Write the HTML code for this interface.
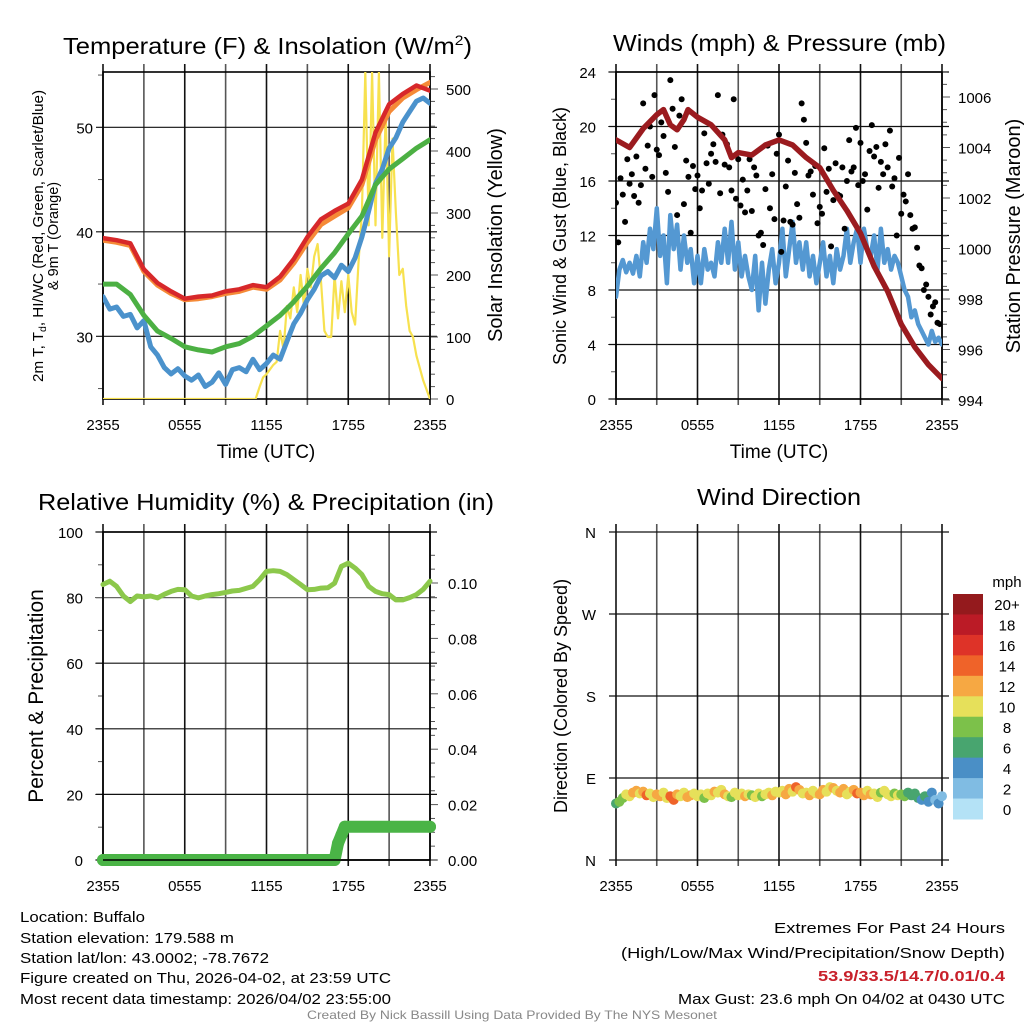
<!DOCTYPE html>
<html><head><meta charset="utf-8"><style>
html,body{margin:0;padding:0;background:#fff;}
svg{display:block;font-family:"Liberation Sans",sans-serif;}
</style></head><body>
<svg id="chart" width="1024" height="1024" viewBox="0 0 1024 1024" xmlns="http://www.w3.org/2000/svg">
<defs>
<clipPath id="cTL"><rect x="103" y="72" width="327" height="327"/></clipPath>
<clipPath id="cTR"><rect x="616" y="72" width="326" height="327"/></clipPath>
<clipPath id="cBL"><rect x="95" y="532" width="345" height="335"/></clipPath>
<clipPath id="cBR"><rect x="606" y="532" width="345" height="328"/></clipPath>
</defs>
<g id="root"></g>
<text x="63" y="54" font-size="23" textLength="409" lengthAdjust="spacingAndGlyphs">Temperature (F) &amp; Insolation (W/m<tspan font-size="14" dy="-9">2</tspan><tspan dy="9">)</tspan></text>
<text x="613" y="51" font-size="23" textLength="333" lengthAdjust="spacingAndGlyphs">Winds (mph) &amp; Pressure (mb)</text>
<text x="38" y="510" font-size="23" textLength="456" lengthAdjust="spacingAndGlyphs">Relative Humidity (%) &amp; Precipitation (in)</text>
<text x="697" y="505" font-size="23" textLength="164" lengthAdjust="spacingAndGlyphs">Wind Direction</text>
<text x="266" y="458" font-size="19" text-anchor="middle">Time (UTC)</text>
<text x="779" y="458" font-size="19" text-anchor="middle">Time (UTC)</text>
<g font-size="14.5" text-anchor="middle">
<text transform="translate(43,236) rotate(-90)" textLength="292" lengthAdjust="spacingAndGlyphs">2m T, T<tspan font-size="10" dy="3">d</tspan><tspan dy="-3">, HI/WC (Red, Green, Scarlet/Blue)</tspan></text>
<text transform="translate(58,236) rotate(-90)">&amp; 9m T (Orange)</text>
</g>
<text transform="translate(502,235) rotate(-90)" font-size="20" text-anchor="middle">Solar Insolation (Yellow)</text>
<text transform="translate(566,236) rotate(-90)" font-size="18" text-anchor="middle">Sonic Wind &amp; Gust (Blue, Black)</text>
<text transform="translate(1020,236) rotate(-90)" font-size="20" text-anchor="middle">Station Pressure (Maroon)</text>
<text transform="translate(43,696) rotate(-90)" font-size="21" text-anchor="middle">Percent &amp; Precipitation</text>
<text transform="translate(567,696) rotate(-90)" font-size="18" text-anchor="middle">Direction (Colored By Speed)</text>
<g font-size="15" font-family="'Liberation Sans Narrow','Liberation Sans',sans-serif">
<text x="20" y="922" textLength="125" lengthAdjust="spacingAndGlyphs">Location: Buffalo</text>
<text x="20" y="943" textLength="214" lengthAdjust="spacingAndGlyphs">Station elevation: 179.588 m</text>
<text x="20" y="963" textLength="249" lengthAdjust="spacingAndGlyphs">Station lat/lon: 43.0002; -78.7672</text>
<text x="20" y="983" textLength="371" lengthAdjust="spacingAndGlyphs">Figure created on Thu, 2026-04-02, at 23:59 UTC</text>
<text x="20" y="1004" textLength="371" lengthAdjust="spacingAndGlyphs">Most recent data timestamp: 2026/04/02 23:55:00</text>
</g>
<g font-size="15" font-family="'Liberation Sans Narrow','Liberation Sans',sans-serif">
<text x="1005" y="933" text-anchor="end" textLength="231" lengthAdjust="spacingAndGlyphs">Extremes For Past 24 Hours</text>
<text x="1005" y="958" text-anchor="end" textLength="384" lengthAdjust="spacingAndGlyphs">(High/Low/Max Wind/Precipitation/Snow Depth)</text>
<text x="1005" y="981" text-anchor="end" fill="#c8202a" font-weight="bold" textLength="187" lengthAdjust="spacingAndGlyphs">53.9/33.5/14.7/0.01/0.4</text>
<text x="1005" y="1004" text-anchor="end" textLength="327" lengthAdjust="spacingAndGlyphs">Max Gust: 23.6 mph On 04/02 at 0430 UTC</text>
</g>
<text x="512" y="1019" font-size="12" fill="#888" text-anchor="middle" font-family="'Liberation Sans Narrow','Liberation Sans',sans-serif" textLength="410" lengthAdjust="spacingAndGlyphs">Created By Nick Bassill Using Data Provided By The NYS Mesonet</text>
</svg>
<script>
// ---- data ----
const hourly = [0,1,2,3,4,5,6,7,8,9,10,11,12,13,14,15,16,17,18,19,20,21,22,23,24];
const tempRed = [39.4,39.2,38.9,36.4,35.1,34.3,33.6,33.8,33.9,34.3,34.5,34.9,34.7,35.7,37.4,39.5,41.2,42.0,42.7,45.0,49.5,52.2,53.2,54.0,53.5];
const tempOrange = [39.2,39.0,38.7,36.2,34.9,34.1,33.5,33.6,33.8,34.1,34.3,34.7,34.5,35.4,37.0,39.0,40.7,41.5,42.3,44.5,48.8,51.5,52.8,53.6,54.3];
const tempGreen = [35.0,35.0,34.0,32.0,30.5,29.8,29.0,28.7,28.5,29.0,29.3,30.0,31.0,32.0,33.3,34.8,36.5,38.0,39.8,41.5,44.5,46.0,47.0,48.0,48.8];
const halfHours = [0,0.5,1,1.5,2,2.5,3,3.5,4,4.5,5,5.5,6,6.5,7,7.5,8,8.5,9,9.5,10,10.5,11,11.5,12,12.5,13,13.5,14,14.5,15,15.5,16,16.5,17,17.5,18,18.5,19,19.5,20,20.5,21,21.5,22,22.5,23,23.5,24];
const tempBlue = [33.8,32.6,32.8,31.9,32.1,30.8,31.5,29.0,28.2,27.0,26.4,26.9,26.2,25.8,26.3,25.2,25.6,26.5,25.4,26.8,27.0,26.6,27.8,26.8,27.4,28.2,27.8,29.5,31.2,32.2,33.5,34.5,35.8,36.2,35.6,36.8,36.2,37.5,39.5,42.0,44.6,46.0,48.0,49.0,50.5,51.5,52.5,52.8,52.3];
const solarHours = [0,11.2,11.5,11.75,12,12.5,12.75,13,13.25,13.5,13.75,14,14.25,14.5,14.75,15,15.25,15.5,15.75,16,16.25,16.5,16.75,17,17.25,17.5,17.75,18,18.25,18.5,18.75,19,19.25,19.5,19.75,20,20.25,20.5,20.75,21,21.25,21.5,21.75,22,22.25,22.5,22.75,23,23.5,24];
const solar = [0,0,20,35,40,55,60,110,80,150,130,180,140,200,150,210,180,230,250,190,110,100,100,200,130,190,140,200,140,120,220,300,527,280,527,280,527,260,460,230,420,300,200,210,150,110,100,70,30,0];
const windSpeed = [7.5,9.5,10.2,9.3,10.0,9.2,10.5,9.0,
11.5,10.0,12.5,11.0,14.0,10.5,12.0,8.5,
13.5,11.0,12.8,9.5,12.0,10.0,11.0,8.5,
10.5,8.5,11.0,9.5,10.0,9.0,11.5,10.0,
12.5,10.0,13.0,9.5,11.5,9.0,10.5,9.0,
8.0,10.5,6.5,10.0,7.0,9.5,11.0,8.5,
10.0,12.5,9.0,11.0,13.0,10.0,11.5,9.5,
11.5,9.0,10.5,8.5,10.0,11.5,9.0,10.5,
8.5,11.0,9.5,10.5,12.5,10.0,11.5,12.5,
10.0,12.5,11.0,10.5,12.0,9.5,12.5,10.0,
11.0,9.5,10.5,10.0,9.0,8.0,7.5,6.0,
6.5,5.5,5.0,4.5,4.0,5.0,4.2,4.5,4.0];
const gust = [14.4,11.5,16.2,15.0,13.0,17.6,15.8,16.5,14.9,17.8,14.4,15.7,
21.7,16.9,18.6,20.0,16.3,22.3,18.3,17.9,20.3,19.3,16.6,15.2,
23.4,21.3,18.5,13.5,20.8,22.0,14.3,17.5,16.3,12.2,17.1,15.4,
16.4,14.0,15.3,19.5,17.3,15.8,18.0,18.7,17.4,22.3,15.1,19.4,
17.2,18.7,17.0,15.3,22.0,14.7,17.6,14.2,16.1,13.7,15.3,17.6,
13.8,17.0,16.4,12.0,12.2,11.3,15.4,18.6,14.0,16.5,13.2,18.0,
19.4,10.8,13.1,15.6,17.5,13.0,12.8,16.6,14.3,13.3,21.7,20.5,
18.8,16.4,16.7,15.0,17.1,12.9,14.1,13.6,18.4,15.2,16.9,11.2,
14.6,17.3,15.0,14.9,17.0,12.5,16.0,19.0,16.7,17.0,19.9,15.7,
18.8,16.0,16.5,13.9,18.2,20.1,17.8,18.5,15.5,17.4,16.5,18.7,
17.0,19.7,15.6,16.2,12.0,17.7,13.6,15.0,14.5,16.5,13.5,12.5,
12.6,11.1,9.8,9.6,8.0,8.4,7.5,6.2,6.8,7.1,5.6,5.5];
const pressureHours = [0,1,2,3,3.5,4,4.5,5,5.3,6,7,8,8.5,9,10,11,12,13,14,15,16,17,18,19,20,21,22,23,24];
const pressure = [1004.3,1004.0,1004.75,1005.3,1005.5,1004.9,1004.7,1005.1,1005.5,1005.2,1004.9,1004.3,1003.6,1003.8,1003.7,1004.1,1004.3,1004.1,1003.6,1003.2,1002.3,1001.5,1000.6,999.3,998.3,997.0,996.1,995.4,994.85];
const rh = [84,85,83.4,80.5,78.8,80.5,80.2,80.5,79.9,81,81.9,82.5,82.4,80.5,79.9,80.5,80.9,81.2,81.6,82,82.2,82.8,83.4,85.5,88,88.2,88,87,85.5,84,82.4,82.5,82.9,83,84.4,89.5,90.5,89,87,83.4,81.9,81.2,80.9,79.3,79.3,80,80.9,82.5,85];
const precipHours = [0,17.0,17.25,17.5,17.75,24];
const precip = [0,0,0.006,0.009,0.012,0.012];
const direction = [62,64,68,72,70,74,76,73,
75,71,73,69,72,70,74,68,
70,66,72,70,74,69,71,73,
70,72,68,73,71,75,74,77,
72,70,69,74,71,73,70,72,
71,69,73,70,72,74,71,75,
74,76,72,78,75,80,77,73,
74,71,76,73,72,77,75,80,
79,76,74,78,72,75,77,73,
74,71,76,72,73,69,74,76,
72,70,73,71,72,70,74,71,
73,68,66,70,64,74,66,62,70];
const dirSpeed = [7,8,9,10,11,12,13,11,
12,14,11,10,12,13,11,10,
15,14,12,11,10,13,12,11,
10,11,9,10,11,12,10,11,
12,10,9,11,10,11,12,10,
9,10,11,8,10,11,12,10,
11,10,12,13,11,15,12,10,
11,12,10,11,12,13,11,10,
12,11,13,12,10,11,12,15,
13,12,11,12,10,11,9,10,
11,10,9,10,8,9,7,6,
7,6,5,6,4,5,3,4,3];
const xTickLabels = ["2355","0555","1155","1755","2355"];
const tempTicks = [30,40,50];
const solarTicks = [0,100,200,300,400,500];
const windTicks = [0,4,8,12,16,20,24];
const pressTicks = [994,996,998,1000,1002,1004,1006];
const rhTicks = [0,20,40,60,80,100];
const precipTicks = [0.00,0.02,0.04,0.06,0.08,0.10];
const dirTicks = [0,90,180,270,360];
const dirLabels = ["N","E","S","W","N"];
const cbLevels = ["0","2","4","6","8","10","12","14","16","18","20+"];
const cbColors = ["#b4e2f6","#80bce3","#4a8fc6","#48a56f","#7cc14a","#e6e05a","#f6a843","#ef6329","#de3328","#bb1b26","#941a1d"];

// ---- scales ----
const xL = h => 103 + h * 327 / 24;
const xR = h => 616 + h * 326 / 24;
const yT = v => 399 - (v - 24) * 10.45;
const yS = v => 399 - v * 0.62;
const yW = v => 399 - v * 13.625;
const yP = p => 400 - (p - 994) * 25.25;
const yH = v => 860 - v * 3.28;
const yPr = v => 860 - v * 2770;
const yD = d => 860 - d * 328 / 360;
const speedColor = s => cbColors[Math.max(0, Math.min(10, Math.floor(s / 2)))];

const NS = "http://www.w3.org/2000/svg";
const root = document.getElementById("root");
function mk(tag, attrs, parent) {
  const e = document.createElementNS(NS, tag);
  for (const k in attrs) e.setAttribute(k, attrs[k]);
  (parent || root).appendChild(e);
  return e;
}
function txt(s, attrs, parent) { const e = mk("text", attrs, parent); e.textContent = s; return e; }

function frame(name, x0, y0, x1, y1, xf) {
  const g = mk("g", {});
  
  
  for (let i = 0; i <= 8; i++) {
    const x = xf(i * 3);
    const l = mk("line", {x1: x, x2: x, y1: y0 - 8, y2: y1 + 6, stroke: i % 2 ? "#555" : "#111", "stroke-width": 1.6}, g);
    
    
  }
  for (let i = 0; i < xTickLabels.length; i++) {
    const t = txt(xTickLabels[i], {x: xf(i * 6), y: y1 + 31, "font-size": 15, "text-anchor": "middle"}, g);
    
    
  }
  return g;
}
function hgrid(g, x0, x1, y, color) {
  mk("line", {x1: x0 - 7, x2: x1 + 7, y1: y, y2: y, stroke: color || "#111", "stroke-width": 1.2}, g);
}
function ytick(g, x, y, dir, len) { mk("line", {x1: x, x2: x + dir * len, y1: y, y2: y, stroke: "#555", "stroke-width": 1}, g); }
function poly(xs, ys, xf, yf, attrs, clip, name) {
  const pts = ys.map((v, i) => xf(xs(i)).toFixed(1) + "," + yf(v).toFixed(1)).join(" ");
  const p = mk("polyline", Object.assign({points: pts, fill: "none", "stroke-linejoin": "round", "stroke-linecap": "round", "clip-path": "url(#" + clip + ")"}, attrs));
  
  
  return p;
}
const fromArr = a => (i => a[i]);
const quarter = i => i / 4;

// ===== Top-left: temperature =====
let g = frame("temp", 103, 72, 430, 399, xL);
for (const v of [25, 35, 45, 55]) ytick(g, 103, yT(v), -1, 5);
for (const v of tempTicks) {
  hgrid(g, 103, 430, yT(v));
  const t = txt(String(v), {x: 93, y: yT(v) + 6, "font-size": 15, "text-anchor": "end"}, g);
  
  
}
for (let v = 0; v <= 520; v += 20) ytick(g, 430, yS(v), 1, v % 100 ? 5 : 8);
for (const v of solarTicks) {
  const t = txt(String(v), {x: 446, y: yS(v) + 6, "font-size": 15}, g);
  
  
}
mk("rect", {x: 103, y: 72, width: 327, height: 327, fill: "none", stroke: "#000", "stroke-width": 1.6}, g);
poly(fromArr(solarHours), solar, xL, yS, {stroke: "#f7e14f", "stroke-width": 2.2}, "cTL", "solar-line");
poly(fromArr(halfHours), tempBlue, xL, yT, {stroke: "#4b92cc", "stroke-width": 5}, "cTL", "windchill-line");
poly(fromArr(hourly), tempGreen, xL, yT, {stroke: "#4cb043", "stroke-width": 5}, "cTL", "dewpoint-line");
poly(fromArr(hourly), tempOrange, xL, yT, {stroke: "#f58a37", "stroke-width": 5}, "cTL", "temp-9m-line");
poly(fromArr(hourly), tempRed, xL, yT, {stroke: "#d7282a", "stroke-width": 4.5}, "cTL", "temp-2m-line");

// ===== Top-right: winds & pressure =====
g = frame("winds", 616, 72, 942, 399, xR);
for (let v = 0; v <= 24; v += 2) ytick(g, 616, yW(v), -1, v % 4 ? 5 : 8);
for (const v of windTicks) {
  hgrid(g, 616, 942, yW(v));
  const t = txt(String(v), {x: 596, y: yW(v) + 6, "font-size": 15, "text-anchor": "end"}, g);
  
  
}
for (let v = 994; v <= 1007; v += 0.5) ytick(g, 942, yP(v), 1, v % 2 ? 5 : 8);
for (const v of pressTicks) {
  const t = txt(String(v), {x: 958, y: yP(v) + 6, "font-size": 15}, g);
  
  
}
mk("rect", {x: 616, y: 72, width: 326, height: 327, fill: "none", stroke: "#000", "stroke-width": 1.6}, g);
poly(quarter, windSpeed, xR, yW, {stroke: "#5498d2", "stroke-width": 4.5}, "cTR", "wind-speed-line");
const gg = mk("g", {"clip-path": "url(#cTR)"});


gust.forEach((v, i) => {
  const c = mk("circle", {cx: xR(i / 6), cy: yW(v), r: 3, fill: "#000"}, gg);
  
  
});
poly(fromArr(pressureHours), pressure, xR, yP, {stroke: "#9b1b1f", "stroke-width": 5.5}, "cTR", "pressure-line");

// ===== Bottom-left: RH & precip =====
g = frame("rh", 103, 532, 430, 860, xL);
for (let v = 0; v <= 100; v += 10) ytick(g, 103, yH(v), -1, v % 20 ? 5 : 8);
for (const v of rhTicks) {
  hgrid(g, 103, 430, yH(v), v === 80 ? "#666" : "#111");
  const t = txt(String(v), {x: 83, y: yH(v) + 6, "font-size": 15, "text-anchor": "end"}, g);
  
  
}
for (let v = 0; v <= 0.115; v += 0.005) ytick(g, 430, yPr(v), 1, Math.round(v * 1000) % 20 ? 5 : 8);
for (const v of precipTicks) {
  const t = txt(v.toFixed(2), {x: 448, y: yPr(v) + 6, "font-size": 15}, g);
  
  
}
mk("rect", {x: 103, y: 532, width: 327, height: 328, fill: "none", stroke: "#000", "stroke-width": 1.6}, g);
poly(fromArr(halfHours), rh, xL, yH, {stroke: "#8cc84b", "stroke-width": 5}, "cBL", "rh-line");
poly(fromArr(precipHours), precip, xL, yPr, {stroke: "#4ab446", "stroke-width": 12}, "cBL", "precip-line");
precipHours.forEach((h, i) => {
  const c = mk("circle", {cx: xL(h), cy: yPr(precip[i]), r: 6, fill: "#4ab446"});
  
  
});
mk("line", {x1: 103, x2: 430, y1: 860, y2: 860, stroke: "#000", "stroke-width": 1.5});

// ===== Bottom-right: wind direction =====
g = frame("direction", 616, 532, 942, 860, xR);
dirTicks.forEach((d, i) => {
  hgrid(g, 616, 942, yD(d));
  const t = txt(dirLabels[i], {x: 596, y: yD(d) + 6, "font-size": 15, "text-anchor": "end"}, g);
  
  
});
const dg = mk("g", {"clip-path": "url(#cBR)"});


direction.forEach((d, i) => {
  const c = mk("circle", {cx: xR(i / 4), cy: yD(d), r: 5, fill: speedColor(dirSpeed[i])}, dg);
  
  
});
// colorbar
const cb = mk("g", {});


const cbTop = 594, cbH = 225 / cbLevels.length;
txt("mph", {x: 1007, y: 587, "font-size": 15, "text-anchor": "middle"}, cb);
for (let i = 0; i < cbLevels.length; i++) {
  const k = cbLevels.length - 1 - i;
  const r = mk("rect", {x: 953, y: cbTop + i * cbH, width: 30, height: cbH + 0.5, fill: cbColors[k]}, cb);
  
  
  const t = txt(cbLevels[k], {x: 1007, y: cbTop + i * cbH + cbH / 2 + 6, "font-size": 15, "text-anchor": "middle"}, cb);
  
  
}
</script>
</body></html>
